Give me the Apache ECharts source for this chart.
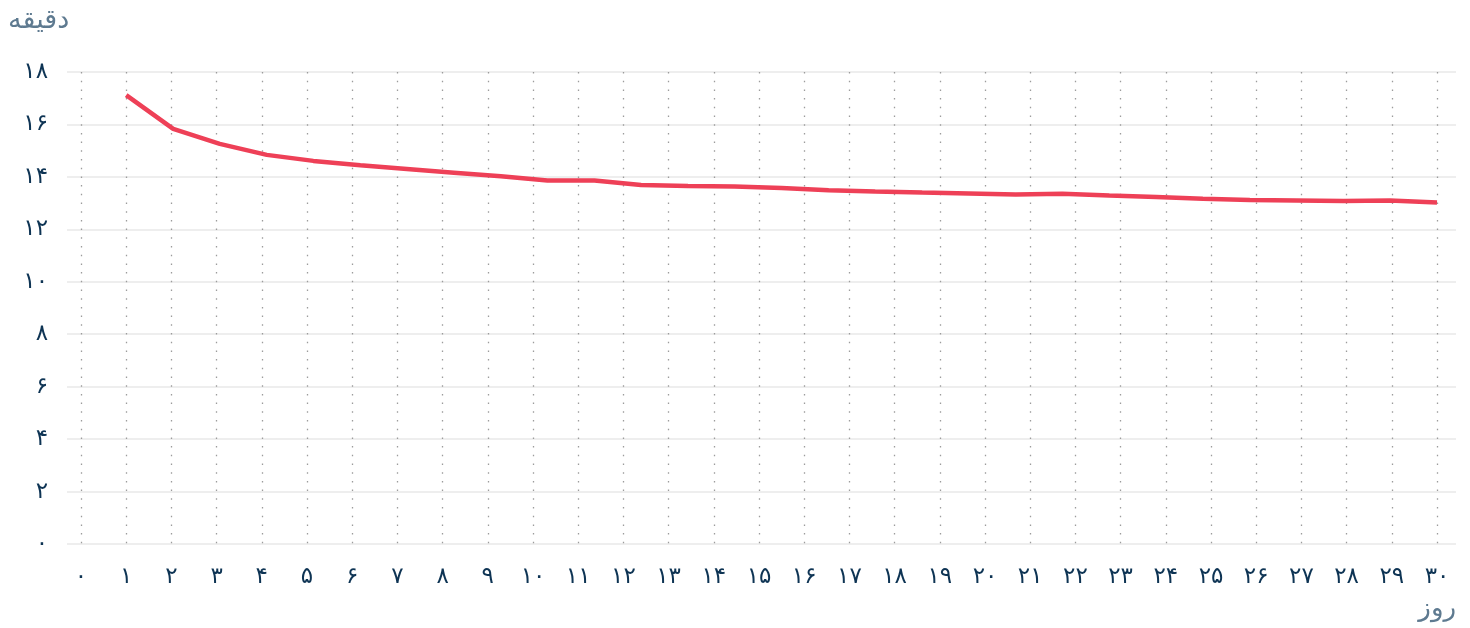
<!DOCTYPE html>
<html>
<head>
<meta charset="utf-8">
<script src="https://cdn.jsdelivr.net/npm/echarts@6/dist/echarts.min.js"></script>
<style>html,body{margin:0;padding:0;background:#fff;}#c{width:1470px;height:628px;}</style>
</head>
<body>
<div id="c"></div>
<script>
const days = [1.00, 2.04, 3.07, 4.11, 5.14, 6.18, 7.21, 8.25, 9.29, 10.32, 11.36, 12.39, 13.43, 14.46, 15.50,
  16.54, 17.57, 18.61, 19.64, 20.68, 21.71, 22.75, 23.79, 24.82, 25.86, 26.89, 27.93, 28.96, 30.00];
const minutes = [17.12, 15.83, 15.26, 14.84, 14.61, 14.44, 14.30, 14.16, 14.02, 13.86, 13.86, 13.69, 13.65, 13.63, 13.58,
  13.49, 13.44, 13.40, 13.37, 13.33, 13.36, 13.29, 13.23, 13.17, 13.12, 13.10, 13.08, 13.10, 13.02];
const persianDigits = ['۰','۱','۲','۳','۴','۵','۶','۷','۸','۹'];
const xAxisName = 'روز';
const yAxisName = 'دقیقه';

function toFa(v){ return String(v).replace(/[0-9]/g, d => persianDigits[+d]); }

const FONT = 'DejaVu Sans';
const chart = echarts.init(document.getElementById('c'), null, {renderer:'canvas'});
chart.setOption({
  animation: false,
  backgroundColor: '#fff',
  textStyle: {fontFamily: FONT},
  grid: [
    {left: 67, right: 14, top: 72, bottom: 84},
    {left: 81, right: 33, top: 72, bottom: 84}
  ],
  xAxis: [
    {gridIndex: 0, type: 'value', min: 0, max: 30, show: false, splitLine: {show: false}},
    {gridIndex: 1, type: 'value', min: 0, max: 30, interval: 1,
      axisLine: {show: false}, axisTick: {show: false},
      axisLabel: {margin: 22, fontSize: 23, color: '#0e3454', fontFamily: FONT, formatter: v => toFa(v)},
      splitLine: {show: true, lineStyle: {color: '#9c9c9c', width: 1.3, type: [1.5, 7.2]}}}
  ],
  yAxis: [
    {gridIndex: 0, type: 'value', min: 0, max: 18, interval: 2,
      axisLine: {show: false}, axisTick: {show: false},
      axisLabel: {margin: 19, fontSize: 23, color: '#0e3454', fontFamily: FONT, formatter: v => toFa(v)},
      splitLine: {show: true, lineStyle: {color: '#eeeeee', width: 2}}},
    {gridIndex: 1, type: 'value', min: 0, max: 18, interval: 2, show: false, splitLine: {show: false}}
  ],
  graphic: [
    {type: 'text', left: 8, top: 7, style: {text: yAxisName, fontSize: 27, fill: '#5e7a90', fontFamily: FONT}},
    {type: 'text', right: 14, top: 596, style: {text: xAxisName, fontSize: 26, fill: '#5e7a90', fontFamily: FONT}}
  ],
  series: [{
    type: 'line',
    xAxisIndex: 1, yAxisIndex: 1,
    data: days.map((d, i) => [d, minutes[i]]),
    showSymbol: false,
    lineStyle: {color: '#ee4057', width: 4.5},
    itemStyle: {color: '#ee4057'}
  }]
});
</script>
</body>
</html>
